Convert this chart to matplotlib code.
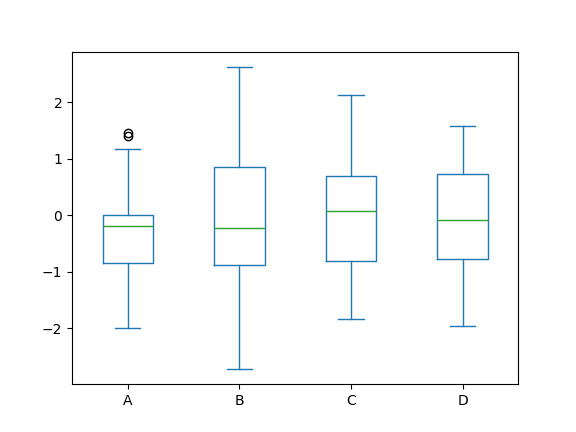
import matplotlib
matplotlib.use("Agg")
import matplotlib.pyplot as plt

labels = ["A", "B", "C", "D"]
whislo = [-2.00, -2.73, -1.84, -1.97]
q1 = [-0.85, -0.89, -0.81, -0.78]
med = [-0.195, -0.235, 0.07, -0.09]
q3 = [0.00, 0.845, 0.69, 0.72]
whishi = [1.17, 2.62, 2.12, 1.57]
fliers = [[1.40, 1.45], [], [], []]

stats = []
for i, lab in enumerate(labels):
    stats.append({
        "label": lab,
        "whislo": whislo[i],
        "q1": q1[i],
        "med": med[i],
        "q3": q3[i],
        "whishi": whishi[i],
        "fliers": fliers[i],
    })

fig, ax = plt.subplots(figsize=(5.76, 4.32), dpi=100)
ax.bxp(
    stats,
    boxprops=dict(color="#1f77b4"),
    whiskerprops=dict(color="#1f77b4"),
    capprops=dict(color="#1f77b4"),
    medianprops=dict(color="#2ca02c"),
    flierprops=dict(marker="o", markeredgecolor="black", markerfacecolor="none"),
)
fig.savefig("out.png", dpi=100)
